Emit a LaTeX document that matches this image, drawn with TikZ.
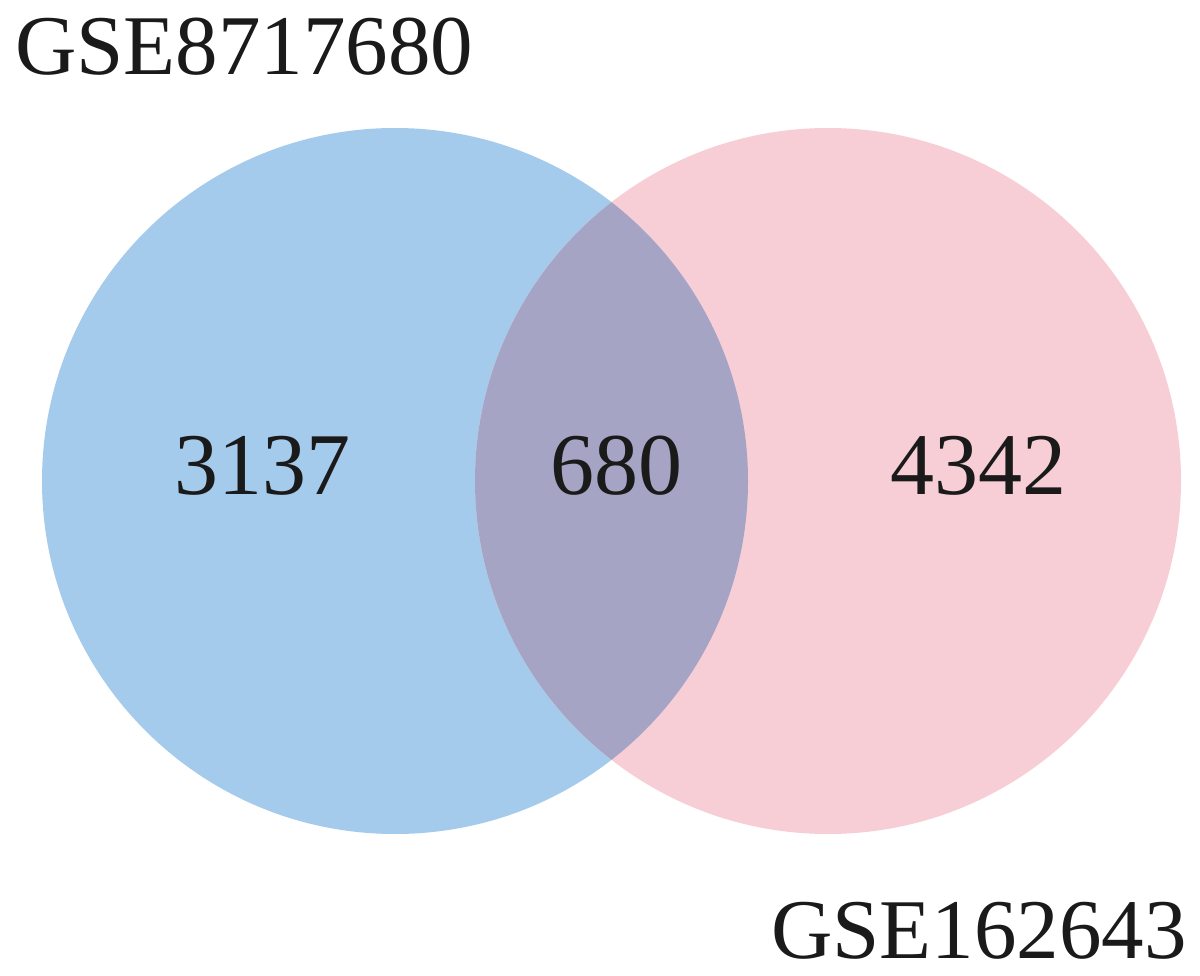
\documentclass[tikz,border=0pt]{standalone}
\usepackage{fontspec}
\setmainfont{Liberation Serif}
\definecolor{vblue}{HTML}{A4CBEC}
\definecolor{vpink}{HTML}{F7CED6}
\definecolor{vmix}{HTML}{A5A4C4}
\definecolor{vtext}{HTML}{1A1A1A}
\begin{document}
\begin{tikzpicture}[x=1pt,y=-1pt,
  setlabel/.style={inner sep=0pt,text=vtext,font=\fontsize{85}{100}\selectfont},
  countlabel/.style={inner sep=0pt,text=vtext,anchor=base,font=\fontsize{88}{100}\selectfont}]
\useasboundingbox (0,0) rectangle (1200,976);
\fill[white] (0,0) rectangle (1200,976);
\fill[vblue] (395,481) circle[radius=353];
\fill[vpink] (828,481) circle[radius=353];
\begin{scope}
  \clip (395,481) circle[radius=353];
  \fill[vmix] (828,481) circle[radius=353];
\end{scope}
\node[setlabel,anchor=base west] (setA) at (15,75) {GSE8717680};
\node[setlabel,anchor=base east] (setB) at (1187,958) {GSE162643};
\node[countlabel] (onlyA) at (262,494) {3137};
\node[countlabel] (both) at (616,494) {680};
\node[countlabel] (onlyB) at (978,494) {4342};
\end{tikzpicture}
\end{document}
